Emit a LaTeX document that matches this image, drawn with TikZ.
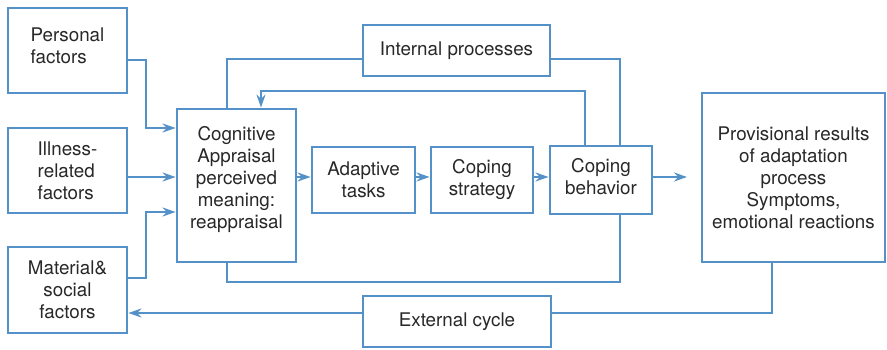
\documentclass[tikz,border=0pt]{standalone}
\usepackage{fontspec}
\setmainfont{TeX Gyre Heros}
\usepackage{tikz}
\usetikzlibrary{arrows.meta}
\definecolor{adblue}{RGB}{84,145,200}
\definecolor{adtext}{RGB}{40,40,40}
\tikzset{
  %% ---- boxes ----
  box/.style    = {rectangle, draw=adblue, line width=2.9pt, fill=white,
                   inner sep=2pt, align=center, text=adtext,
                   font=\fontsize{18.8}{22}\selectfont},
  %% ---- connectors ----
  link/.style   = {line width=2.9pt, color=adblue},
  arrow/.style  = {-{Stealth[length=13pt, width=9pt]}, line width=2.9pt, color=adblue},
}
\begin{document}
\begin{tikzpicture}[x=1pt, y=-1pt]
\useasboundingbox (0,0) rectangle (887,350);
% input factors
\node[box, minimum width=119pt, minimum height=85pt, align=left] (pers) at (67.5,50.5) {Personal\\factors\\[-12pt]};
\node[box, minimum width=119pt, minimum height=85pt, align=left] (ill)  at (67.5,170.5) {Illness-\\related\\factors};
\node[box, minimum width=119pt, minimum height=86pt] (mat)  at (67.5,290) {Material\&\\social\\factors};
% main chain
\node[box, minimum width=119pt, minimum height=153pt] (cog) at (236.5,185.5)
  {Cognitive\\Appraisal\\perceived\\meaning:\\reappraisal\\[-5pt]};
\node[box, minimum width=103pt, minimum height=66pt] (adapt) at (363.5,180) {Adaptive\\tasks};
\node[box, minimum width=102pt, minimum height=66pt] (strat) at (482,180) {Coping\\strategy\\[-16pt]};
\node[box, minimum width=102pt, minimum height=68pt] (behav) at (601,180) {Coping\\behavior\\[-14pt]};
\node[box, minimum width=183pt, minimum height=169pt] (prov) at (793.5,177.5)
  {Provisional results\\of adaptation\\process\\Symptoms,\\emotional reactions};
% loops
\node[box, minimum width=187pt, minimum height=51pt] (intp) at (456.5,50.5) {Internal processes};
\node[box, minimum width=188pt, minimum height=51pt] (ext)  at (457,321.5) {External cycle};

% rows and columns of the routing
\coordinate (midrow) at (0,177);
\coordinate (toprow) at (0,59);
\coordinate (fbrow)  at (0,91);
\coordinate (botrow) at (0,282);
\coordinate (extrow) at (0,313);
\coordinate (out1)   at (0,60);
\coordinate (in1)    at (0,128);
\coordinate (out3)   at (0,278);
\coordinate (in3)    at (0,212);
\coordinate (bendx)  at (146,0);
\coordinate (leftx)  at (227,0);
\coordinate (fbx)    at (261,0);
\coordinate (fbx2)   at (585,0);
\coordinate (rightx) at (620,0);
\coordinate (provx)  at (772,0);
\coordinate (resin)  at (687,177);

% inputs
\draw[arrow] (pers.east |- out1) -| (bendx |- in1) -- (cog.west |- in1);
\draw[arrow] (ill.east |- midrow) -- (cog.west |- midrow);
\draw[arrow] (mat.east |- out3) -| (bendx |- in3) -- (cog.west |- in3);
% chain
\draw[arrow] (cog.east |- midrow)   -- (adapt.west |- midrow);
\draw[arrow] (adapt.east |- midrow) -- (strat.west |- midrow);
\draw[arrow] (strat.east |- midrow) -- (behav.west |- midrow);
\draw[arrow] (behav.east |- resin)  -- (resin);
% internal loop
\draw[link] (cog.north -| leftx) |- (intp.west |- toprow);
\draw[link] (intp.east |- toprow) -| (behav.north -| rightx);
\draw[arrow] (behav.north -| fbx2) |- (fbx |- fbrow) -- (cog.north -| fbx);
\draw[link] (cog.south -| leftx) |- (rightx |- botrow) -- (behav.south -| rightx);
% external cycle
\draw[link] (prov.south -| provx) |- (ext.east |- extrow);
\draw[arrow] (ext.west |- extrow) -- (mat.east |- extrow);
\end{tikzpicture}
\end{document}
